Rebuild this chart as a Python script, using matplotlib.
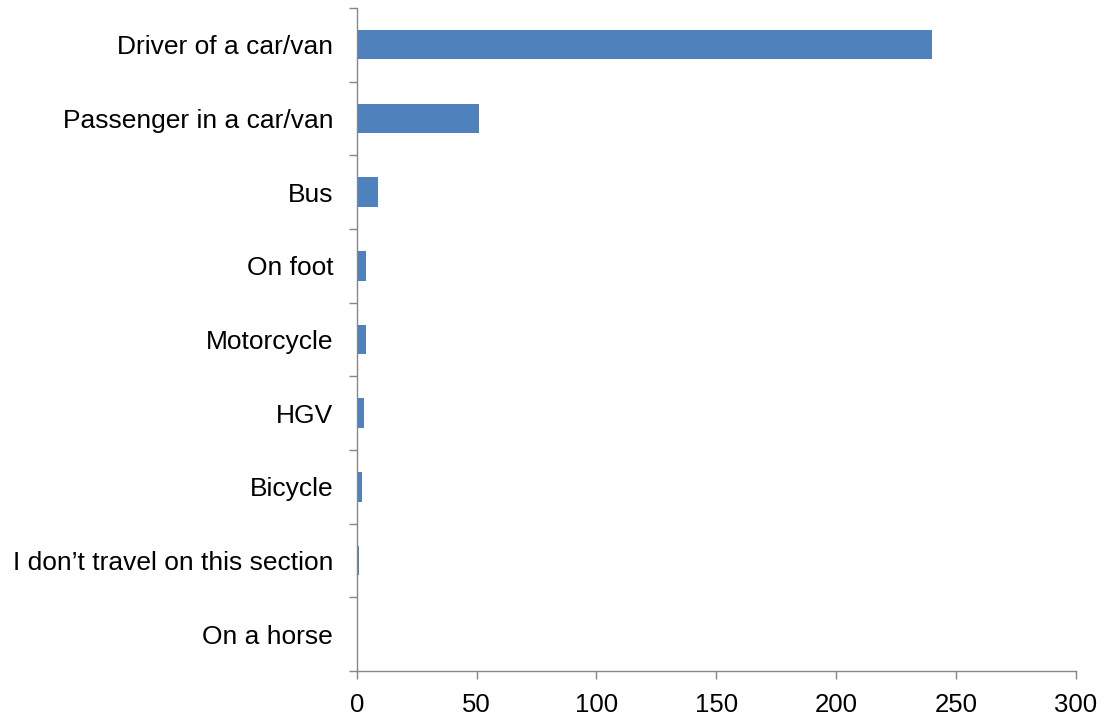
import matplotlib
matplotlib.use("Agg")
import matplotlib.pyplot as plt
import numpy as np

# Mode of travel on this section (top to bottom as shown)
categories = [
    "Driver of a car/van",
    "Passenger in a car/van",
    "Bus",
    "On foot",
    "Motorcycle",
    "HGV",
    "Bicycle",
    "I don\u2019t travel on this section",
    "On a horse",
]
counts = [240, 51, 9, 4, 4, 3, 2, 1, 0]
x_ticks = [0, 50, 100, 150, 200, 250, 300]

BAR_COLOR = "#4F81BD"
AXIS_GREY = "#868686"

plt.rcParams["font.family"] = ["Liberation Sans", "DejaVu Sans"]

fig = plt.figure(figsize=(11.08, 7.17), dpi=100)
ax = fig.add_axes([0.322, 0.064, 0.649, 0.925])

n = len(categories)
y = np.arange(n)
ax.barh(y, counts, height=0.4, color=BAR_COLOR)

ax.set_xlim(0, 300)
ax.set_ylim(n - 0.5, -0.5)

ax.set_xticks(x_ticks)
ax.set_xticklabels([str(t) for t in x_ticks], fontsize=18.5)

# labels at category centres, tick marks at category boundaries
ax.set_yticks(y)
ax.set_yticklabels(categories, fontsize=19)
ax.set_yticks(np.arange(-0.5, n, 1.0), minor=True)
ax.tick_params(axis="y", which="major", length=0, pad=17)
ax.tick_params(axis="y", which="minor", length=6, color=AXIS_GREY, width=1)
ax.tick_params(axis="x", length=6, color=AXIS_GREY, width=1, pad=10)

for side in ["top", "right"]:
    ax.spines[side].set_visible(False)
for side in ["left", "bottom"]:
    ax.spines[side].set_color(AXIS_GREY)
    ax.spines[side].set_linewidth(1)

fig.savefig("out.png", dpi=100)
